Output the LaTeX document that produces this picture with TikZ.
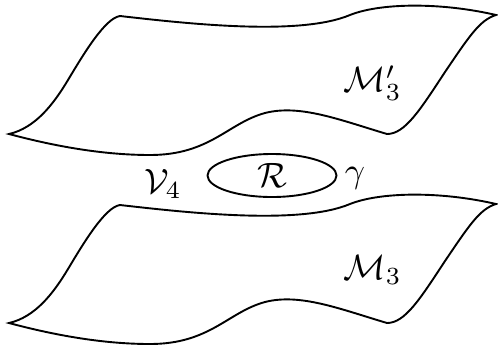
\documentclass[tikz,border=0pt]{standalone}
\usetikzlibrary{shapes.geometric}
\tikzset{
  sheet/.style={draw=black, line width=1.9*0.284pt},
  lbl/.style={inner sep=0pt},
  loop/.style={draw=black, ellipse, line width=1.9*0.284pt, inner sep=0pt, minimum width=129*0.284pt, minimum height=43*0.284pt}
}
\newcommand{\sheetpath}{%
  (120,16) .. controls (190,24) and (300,36) .. (350,15)
  .. controls (380,3) and (440,2) .. (496,15)
  .. controls (480,20) and (470,35) .. (445,72)
  .. controls (420,110) and (405,134) .. (387,134)
  .. controls (340,120) and (300,104) .. (265,113)
  .. controls (228,123) and (210,155) .. (150,155)
  .. controls (100,155) and (50,145) .. (9,134)
  .. controls (35,128) and (53,105) .. (68,80)
  .. controls (83,55) and (105,18) .. (120,16) -- cycle}
\begin{document}
\begin{tikzpicture}[x=0.284pt, y=-0.284pt]
\useasboundingbox (0,0) rectangle (498,347);
\draw[sheet] \sheetpath;
\begin{scope}[shift={(0,189)}]
\draw[sheet] \sheetpath;
\end{scope}
\node[loop] (R) at (272,175.5) {$\mathcal{R}$};
\node[lbl, anchor=west] (Mp) at (343,83) {$\mathcal{M}'_3$};
\node[lbl, anchor=west] (M) at (343,270) {$\mathcal{M}_3$};
\node[lbl] (V) at (163,184) {$\mathcal{V}_4$};
\node[lbl] (g) at (355,178) {$\gamma$};
\end{tikzpicture}
\end{document}
